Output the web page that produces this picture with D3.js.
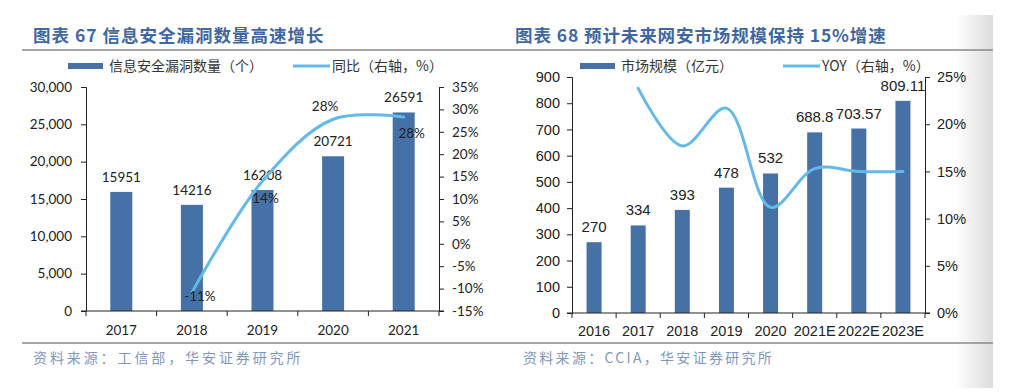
<!DOCTYPE html>
<html>
<head>
<meta charset="utf-8">
<script src="https://cdn.jsdelivr.net/npm/d3@7/dist/d3.min.js"></script>
<style>
  body { margin: 0; background: #fff; }
  svg { display: block; }
  .cjk { font-family: "Noto Sans CJK SC", sans-serif; }
</style>
</head>
<body>
<svg id="chart" width="1015" height="392"></svg>
<script>
// 图表67 数据
const vulnYears = ['2017', '2018', '2019', '2020', '2021'];
const vulnCounts = [15951, 14216, 16208, 20721, 26591];
const vulnYoyYears = ['2018', '2019', '2020', '2021'];
const vulnYoy = [-10.9, 14.0, 27.8, 28.3];
const vulnYoyLabels = ['-11%', '14%', '28%', '28%'];
const vulnLeftTicks = [0, 5000, 10000, 15000, 20000, 25000, 30000];
const vulnRightTicks = [-15, -10, -5, 0, 5, 10, 15, 20, 25, 30, 35];

// 图表68 数据
const marketYears = ['2016', '2017', '2018', '2019', '2020', '2021E', '2022E', '2023E'];
const marketSize = [270, 334, 393, 478, 532, 688.8, 703.57, 809.11];
const marketSizeLabels = ['270', '334', '393', '478', '532', '688.8', '703.57', '809.11'];
const marketYoyYears = ['2017', '2018', '2019', '2020', '2021E', '2022E', '2023E'];
const marketYoy = [23.8, 17.7, 21.7, 11.2, 15.3, 15.0, 15.0];
const marketLeftTicks = [0, 100, 200, 300, 400, 500, 600, 700, 800, 900];
const marketRightTicks = [0, 5, 10, 15, 20, 25];

const BAR = '#4571a6';
const LINE = '#62b9ea';
const TITLE = '#3f67a3';
const SOURCE = '#7f97bd';

const svg = d3.select('#chart');

// 右侧页面阴影
const defs = svg.append('defs');
const grad = defs.append('linearGradient').attr('id', 'edge');
grad.append('stop').attr('offset', '0%').attr('stop-color', '#fff');
grad.append('stop').attr('offset', '100%').attr('stop-color', '#dcdcdc');
svg.append('rect')
  .attr('x', 955).attr('y', 15).attr('width', 38).attr('height', 373)
  .attr('fill', 'url(#edge)');

// 标题和分隔线
svg.append('text').attr('class', 'cjk')
  .attr('x', 33).attr('y', 42)
  .attr('font-size', 17.5).attr('font-weight', 'bold').attr('fill', TITLE)
  .attr('letter-spacing', 1)
  .text('图表 67 信息安全漏洞数量高速增长');
svg.append('text').attr('class', 'cjk')
  .attr('x', 515).attr('y', 42)
  .attr('font-size', 17.5).attr('font-weight', 'bold').attr('fill', TITLE)
  .attr('letter-spacing', 0.9)
  .text('图表 68 预计未来网安市场规模保持 15%增速');

[50, 343].forEach(y => {
  svg.append('line')
    .attr('x1', 22).attr('x2', 993).attr('y1', y).attr('y2', y)
    .attr('stroke', '#8a8a8a').attr('stroke-width', 1.5);
});

svg.append('text').attr('class', 'cjk')
  .attr('x', 33).attr('y', 363)
  .attr('font-size', 14).attr('letter-spacing', 2.9).attr('fill', SOURCE)
  .text('资料来源：工信部，华安证券研究所');
svg.append('text').attr('class', 'cjk')
  .attr('x', 523).attr('y', 363)
  .attr('font-size', 14).attr('letter-spacing', 2.3).attr('fill', SOURCE)
  .text('资料来源：CCIA，华安证券研究所');

const drawCombo = (opt) => {
  const g = svg.append('g');

  const x = d3.scaleBand()
    .domain(opt.cats)
    .range([opt.left, opt.right]);

  const y = d3.scaleLinear()
    .domain([opt.leftTicks[0], opt.leftTicks[opt.leftTicks.length - 1]])
    .range([opt.bottom, opt.top]);

  const y2 = d3.scaleLinear()
    .domain([opt.rightTicks[0], opt.rightTicks[opt.rightTicks.length - 1]])
    .range([opt.bottom, opt.top]);

  // 图例
  const lg = g.append('g').attr('class', 'cjk').attr('font-size', 14).attr('fill', '#333');
  lg.append('rect')
    .attr('x', opt.legend[0]).attr('y', 63).attr('width', 35).attr('height', 6)
    .attr('fill', BAR);
  lg.append('text')
    .attr('x', opt.legend[0] + 41).attr('y', 71)
    .text(opt.barName);
  lg.append('line')
    .attr('x1', opt.legend[1]).attr('x2', opt.legend[1] + 37)
    .attr('y1', 66).attr('y2', 66)
    .attr('stroke', LINE).attr('stroke-width', 3);
  lg.append('text')
    .attr('x', opt.legend[1] + 39).attr('y', 71)
    .text(opt.lineName);

  // 柱子
  g.append('g')
    .selectAll('rect')
    .data(opt.values)
    .enter()
    .append('rect')
    .attr('x', (d, i) => x(opt.cats[i]) + x.bandwidth() / 2 - opt.barWidth / 2)
    .attr('width', opt.barWidth)
    .attr('y', d => y(d))
    .attr('height', d => opt.bottom - y(d))
    .attr('fill', BAR);

  // 坐标轴
  const axL = g.append('g')
    .attr('transform', `translate(${opt.left},0)`)
    .call(d3.axisLeft(y).tickValues(opt.leftTicks).tickFormat(opt.leftFmt)
      .tickSizeInner(5).tickSizeOuter(5).tickPadding(opt.tickPad));
  const axR = g.append('g')
    .attr('transform', `translate(${opt.right},0)`)
    .call(d3.axisRight(y2).tickValues(opt.rightTicks).tickFormat(d => d + '%')
      .tickSizeInner(5).tickSizeOuter(5).tickPadding(opt.tickPadR));
  const bounds = opt.cats.map(c => x(c)).concat([opt.right]);
  const axB = g.append('g')
    .attr('transform', `translate(0,${opt.bottom})`);
  axB.append('line')
    .attr('x1', opt.left - 5).attr('x2', opt.right + 5)
    .attr('stroke', '#222');
  axB.selectAll('.tk')
    .data(bounds)
    .enter()
    .append('line')
    .attr('x1', d => d).attr('x2', d => d)
    .attr('y1', 0).attr('y2', 5)
    .attr('stroke', '#222');
  axB.selectAll('.lab')
    .data(opt.cats)
    .enter()
    .append('text')
    .attr('x', d => x(d) + x.bandwidth() / 2)
    .attr('y', opt.xLabelY)
    .attr('text-anchor', 'middle')
    .attr('font-family', opt.font)
    .attr('font-size', opt.fontSize)
    .attr('fill', '#222')
    .text(d => d);

  [axL, axR].forEach(a => {
    a.selectAll('path, line').attr('stroke', '#222');
    a.selectAll('text')
      .attr('font-family', opt.font)
      .attr('font-size', opt.fontSize)
      .attr('fill', '#222');
  });

  // 柱子标签
  g.append('g')
    .selectAll('text')
    .data(opt.values)
    .enter()
    .append('text')
    .attr('x', (d, i) => x(opt.cats[i]) + x.bandwidth() / 2)
    .attr('y', d => y(d) - 10)
    .attr('text-anchor', 'middle')
    .attr('font-family', opt.font)
    .attr('font-size', opt.labelSize)
    .attr('fill', '#222')
    .text((d, i) => opt.valueLabels[i]);

  // 折线
  const pts = opt.lineVals.map((v, i) => [x(opt.lineCats[i]) + x.bandwidth() / 2, y2(v)]);
  const line = d3.line().curve(d3.curveCatmullRom.alpha(0.5));
  g.append('path')
    .attr('d', line(pts))
    .attr('fill', 'none')
    .attr('stroke', LINE)
    .attr('stroke-width', 3)
    .attr('stroke-linecap', 'round');

  if (opt.lineLabels) {
    g.append('g')
      .selectAll('text')
      .data(opt.lineLabels)
      .enter()
      .append('text')
      .attr('x', (d, i) => pts[i][0] + opt.lineLabelOff[i][0])
      .attr('y', (d, i) => pts[i][1] + opt.lineLabelOff[i][1])
      .attr('text-anchor', 'middle')
      .attr('font-family', opt.font)
      .attr('font-size', opt.labelSize)
      .attr('fill', '#222')
      .text(d => d);
  }
};

drawCombo({
  cats: vulnYears,
  values: vulnCounts,
  valueLabels: vulnCounts.map(String),
  lineCats: vulnYoyYears,
  lineVals: vulnYoy,
  lineLabels: vulnYoyLabels,
  lineLabelOff: [[8, 8], [3, 22], [-8, -8], [8, 21]],
  leftTicks: vulnLeftTicks,
  rightTicks: vulnRightTicks,
  leftFmt: d3.format(','),
  left: 86, right: 439, top: 87, bottom: 311,
  barWidth: 22,
  legend: [68, 293],
  barName: '信息安全漏洞数量（个）',
  lineName: '同比（右轴，%）',
  font: 'Lato, sans-serif',
  fontSize: 13.5,
  labelSize: 13.5,
  tickPad: 9,
  tickPadR: 8,
  xLabelY: 24
});

drawCombo({
  cats: marketYears,
  values: marketSize,
  valueLabels: marketSizeLabels,
  lineCats: marketYoyYears,
  lineVals: marketYoy,
  leftTicks: marketLeftTicks,
  rightTicks: marketRightTicks,
  leftFmt: d3.format('d'),
  left: 572, right: 925, top: 77, bottom: 313,
  barWidth: 15,
  legend: [580, 783],
  barName: '市场规模（亿元）',
  lineName: 'YOY（右轴，%）',
  font: '"Liberation Sans", Arial, sans-serif',
  fontSize: 14.5,
  labelSize: 15,
  tickPad: 7,
  tickPadR: 7,
  xLabelY: 23
});
</script>
</body>
</html>
